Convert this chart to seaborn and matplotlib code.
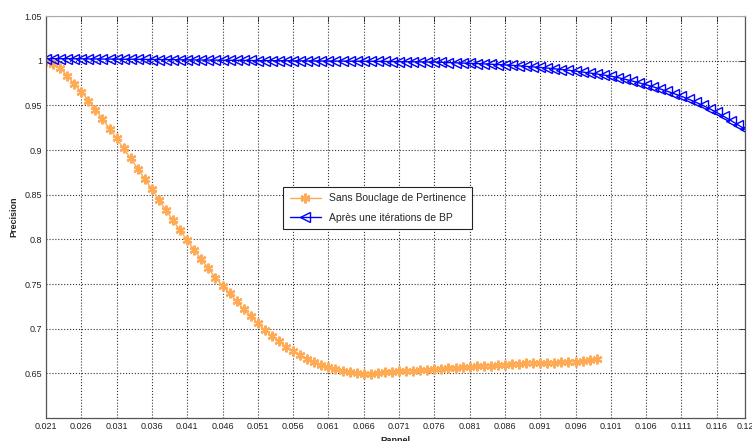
import numpy as np
import pandas as pd
import matplotlib
matplotlib.use("Agg")
import matplotlib.pyplot as plt
import seaborn as sns

# Rappel values (step 0.001)
rappel_sans = [round(0.021 + 0.001 * i, 3) for i in range(79)]      # 0.021 .. 0.099
rappel_bp = [round(0.021 + 0.001 * i, 3) for i in range(100)]       # 0.021 .. 0.120

precision_sans = [
    1.0000, 0.9965, 0.9918, 0.9830, 0.9740, 0.9650, 0.9554, 0.9453, 0.9345, 0.9240,
    0.9129, 0.9017, 0.8905, 0.8790, 0.8673, 0.8562, 0.8442, 0.8323, 0.8211, 0.8100,
    0.7990, 0.7878, 0.7775, 0.7674, 0.7569, 0.7480, 0.7395, 0.7306, 0.7216, 0.7140,
    0.7060, 0.6985, 0.6917, 0.6857, 0.6798, 0.6746, 0.6701, 0.6656, 0.6622, 0.6592,
    0.6566, 0.6544, 0.6525, 0.6510, 0.6499, 0.6494, 0.6497, 0.6503, 0.6510, 0.6517,
    0.6523, 0.6527, 0.6531, 0.6535, 0.6539, 0.6543, 0.6549, 0.6555, 0.6561, 0.6566,
    0.6571, 0.6577, 0.6582, 0.6587, 0.6592, 0.6598, 0.6603, 0.6608, 0.6613, 0.6620,
    0.6612, 0.6615, 0.6620, 0.6624, 0.6628, 0.6632, 0.6638, 0.6646, 0.6655,
]

precision_bp = [
    1.0023, 1.0023, 1.0022, 1.0022, 1.0021, 1.0021, 1.0020, 1.0019, 1.0018, 1.0018,
    1.0017, 1.0016, 1.0016, 1.0015, 1.0014, 1.0013, 1.0012, 1.0012, 1.0011, 1.0010,
    1.0009, 1.0008, 1.0007, 1.0007, 1.0006, 1.0005, 1.0004, 1.0003, 1.0003, 1.0002,
    1.0001, 1.0000, 1.0000, 0.9999, 0.9999, 0.9998, 0.9998, 0.9997, 0.9997, 0.9996,
    0.9996, 0.9995, 0.9995, 0.9994, 0.9994, 0.9993, 0.9993, 0.9992, 0.9991, 0.9990,
    0.9989, 0.9988, 0.9987, 0.9986, 0.9985, 0.9984, 0.9982, 0.9979, 0.9976, 0.9973,
    0.9970, 0.9967, 0.9964, 0.9960, 0.9956, 0.9952, 0.9948, 0.9942, 0.9936, 0.9930,
    0.9924, 0.9917, 0.9909, 0.9901, 0.9893, 0.9883, 0.9873, 0.9862, 0.9851, 0.9839,
    0.9827, 0.9810, 0.9792, 0.9773, 0.9752, 0.9730, 0.9707, 0.9683, 0.9657, 0.9630,
    0.9601, 0.9569, 0.9536, 0.9500, 0.9462, 0.9420, 0.9376, 0.9330, 0.9282, 0.9232,
]

label_sans = "Sans Bouclage de Pertinence"
label_bp = "Après une itérations de BP"

x_ticks = [round(0.021 + 0.005 * i, 3) for i in range(20)] + [0.12]
y_ticks = [0.65, 0.7, 0.75, 0.8, 0.85, 0.9, 0.95, 1.0, 1.05]

sns.set_style("white")
plt.rcParams["font.family"] = ["Liberation Sans", "DejaVu Sans"]

fig = plt.figure(figsize=(7.52, 4.41), dpi=100)
ax = fig.add_axes([46 / 752, 23 / 441, 699 / 752, 402 / 441])

df_sans = pd.DataFrame({"Rappel": rappel_sans, "Precision": precision_sans})
df_bp = pd.DataFrame({"Rappel": rappel_bp, "Precision": precision_bp})

# MATLAB-style asterisk marker
sns.lineplot(data=df_sans, x="Rappel", y="Precision", ax=ax, color="#ffaa55",
             marker=(6, 2, 0), markersize=7, markeredgecolor="#ffaa55",
             markeredgewidth=1.6, linewidth=1, label=label_sans)
sns.lineplot(data=df_bp, x="Rappel", y="Precision", ax=ax, color="#0000ff",
             marker="<", markersize=6.5, markerfacecolor="none", markeredgecolor="#0000ff",
             markeredgewidth=1, linewidth=1, label=label_bp)

ax.set_xlim(0.021, 0.12)
ax.set_ylim(0.6, 1.05)
ax.set_xticks(x_ticks)
ax.set_xticklabels([f"{t:g}" for t in x_ticks])
ax.set_yticks(y_ticks)
ax.set_yticklabels([f"{t:g}" for t in y_ticks])
ax.tick_params(direction="in", length=4, width=0.6, labelsize=6.5, colors="#222222",
               top=True, right=True, pad=3)
ax.grid(True, linestyle=":", color="#333333", linewidth=0.8)

for side in ["left", "bottom", "right"]:
    ax.spines[side].set_color("#555555")
    ax.spines[side].set_linewidth(0.9)
ax.spines["top"].set_color("#aaaaaa")

ax.set_xlabel("Rappel", fontsize=6.5, fontweight="bold")
ax.set_ylabel("Precision", fontsize=6.5, fontweight="bold")
ax.xaxis.set_label_coords(0.5, -0.045)
ax.yaxis.set_label_coords(-0.04, 0.5)

leg = ax.legend(loc="upper left", bbox_to_anchor=(0.332, 0.587), fontsize=7.5,
                frameon=True, fancybox=False, framealpha=1, edgecolor="#222222",
                borderpad=0.6, handlelength=3, labelspacing=0.9)
leg.get_frame().set_linewidth(0.8)

fig.savefig("out.png", dpi=100)
